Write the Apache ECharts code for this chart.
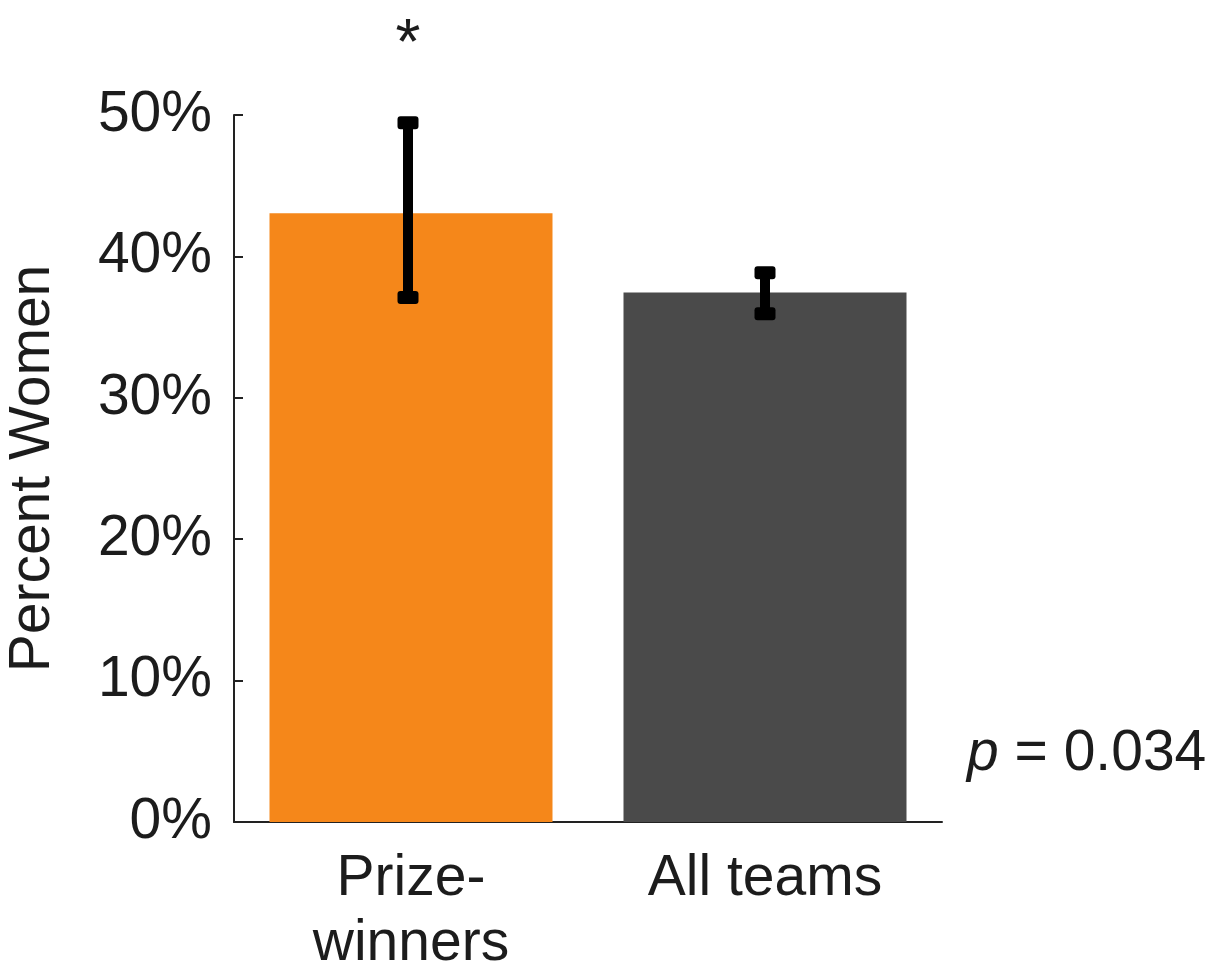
<!DOCTYPE html>
<html>
<head>
<meta charset="utf-8">
<script src="https://cdn.jsdelivr.net/npm/echarts@6/dist/echarts.min.js"></script>
<style>
html,body{margin:0;padding:0;background:#fff;}
#chart{width:1218px;height:967px;}
</style>
</head>
<body>
<div id="chart"></div>
<script>
var categories = ['Prize-\nwinners', 'All teams'];
var values = [43.05, 37.45];
var errLow = [37.1, 35.95];
var errHigh = [49.45, 38.85];
var barColors = ['#F5871A', '#4A4A4A'];
var significance = ['*', ''];
var yTicks = [0, 10, 20, 30, 40, 50];
var pText = '0.034';

var FONT = '"Liberation Sans", Arial, Helvetica, sans-serif';
var TXT = '#1c1c1c';

var chart = echarts.init(document.getElementById('chart'), null, {renderer: 'canvas'});

var errData = categories.map(function (c, i) { return [i, errLow[i], errHigh[i]]; });

chart.setOption({
  animation: false,
  backgroundColor: '#fff',
  grid: {left: 234, right: 276, top: 115, bottom: 145, containLabel: false, outerBoundsMode: 'none'},
  xAxis: {
    type: 'category',
    data: categories,
    axisLine: {show: true, lineStyle: {color: '#222', width: 2}},
    axisTick: {show: false},
    axisLabel: {
      color: TXT, fontFamily: FONT, fontSize: 57, lineHeight: 65, margin: 25,
      interval: 0
    },
    splitLine: {show: false}
  },
  yAxis: {
    type: 'value',
    min: 0, max: 50, interval: 10,
    name: 'Percent Women',
    nameLocation: 'middle',
    nameGap: 172,
    nameRotate: 90,
    nameTextStyle: {color: TXT, fontFamily: FONT, fontSize: 57},
    axisLine: {show: true, lineStyle: {color: '#222', width: 2}},
    axisTick: {show: true, inside: true, length: 9, lineStyle: {color: '#222', width: 2}},
    axisLabel: {
      color: TXT, fontFamily: FONT, fontSize: 57, margin: 22,
      formatter: function (v) { return yTicks.indexOf(v) >= 0 ? v + '%' : ''; }
    },
    splitLine: {show: false}
  },
  series: [
    {
      type: 'bar',
      data: values.map(function (v, i) { return {value: v, itemStyle: {color: barColors[i]}}; }),
      barWidth: 283,
      z: 2
    },
    {
      type: 'custom',
      z: 5,
      data: errData,
      renderItem: function (params, api) {
        var i = api.value(0);
        var lo = api.coord([i, api.value(1)]);
        var hi = api.coord([i, api.value(2)]);
        var x = lo[0] - (i === 0 ? 3 : 0);
        var capW = 21, capH = 13;
        var children = [
          {type: 'line', shape: {x1: x, y1: hi[1], x2: x, y2: lo[1]},
           style: {stroke: '#000', lineWidth: 10}},
          {type: 'rect', shape: {x: x - capW / 2, y: hi[1] - capH / 2, width: capW, height: capH, r: 3},
           style: {fill: '#000'}},
          {type: 'rect', shape: {x: x - capW / 2, y: lo[1] - capH / 2, width: capW, height: capH, r: 3},
           style: {fill: '#000'}}
        ];
        if (significance[params.dataIndex]) {
          children.push({
            type: 'text',
            style: {
              text: significance[params.dataIndex], x: x, y: hi[1] - 76,
              textAlign: 'center', textVerticalAlign: 'middle',
              fontSize: 64, fontFamily: FONT, fill: TXT
            }
          });
        }
        return {type: 'group', children: children};
      }
    }
  ],
  graphic: [
    {
      type: 'text',
      left: 967,
      top: 726,
      style: {
        text: '{i|p} = ' + pText,
        font: '57px ' + FONT,
        fill: TXT,
        rich: {i: {fontStyle: 'italic', fontSize: 57, fontFamily: FONT, fill: TXT}}
      }
    }
  ]
});
</script>
</body>
</html>
